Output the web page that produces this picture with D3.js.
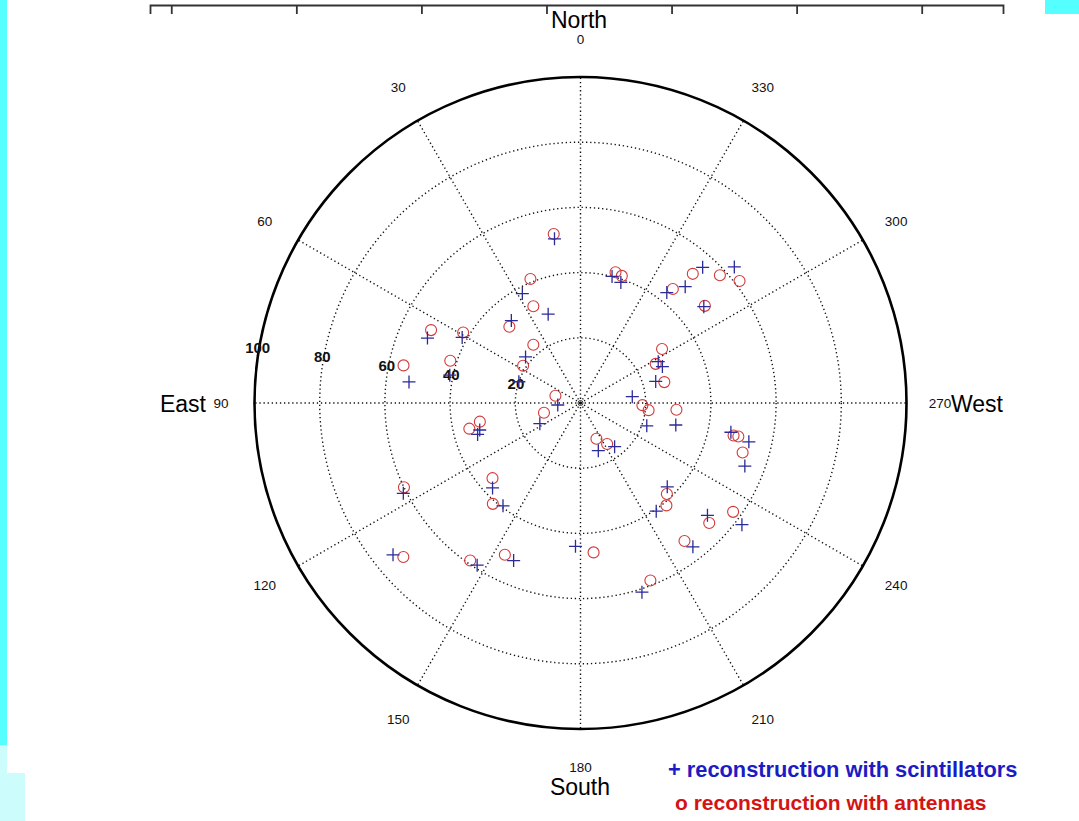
<!DOCTYPE html>
<html>
<head>
<meta charset="utf-8">
<script src="https://cdn.jsdelivr.net/npm/d3@7"></script>
<style>
  html, body { margin: 0; padding: 0; background: #fff; }
  svg { display: block; }
</style>
</head>
<body>
<div id="chart"></div>
<script>
// values: [azimuth deg (N=0, E=90, S=180, W=270), zenith deg]
const scintillators = [
  [9, 51], [28, 38], [20, 29], [40, 33], [67, 51], [61, 41.5], [50, 22], [71, 20],
  [83, 53], [78, 41], [95, 7], [117, 14], [105, 32], [107, 33], [117, 61], [134, 37.5],
  [143, 39.5], [129, 74], [147.5, 59], [157, 52.5], [178, 44], [346, 40], [341.5, 39],
  [318, 56], [311.5, 63], [318, 48], [322, 43], [308, 48], [298, 27], [294, 27.5],
  [286, 24], [277, 16], [251, 21.5], [257, 30], [200.5, 15.6], [218, 17], [259, 47],
  [257, 53], [249, 54], [226, 37], [215, 40.5], [228.5, 52], [233, 62], [218, 56], [198, 61]
];
const antennas = [
  [9, 52.5], [22, 41], [26, 33], [43, 32], [64, 51], [59, 42], [39, 23], [57, 21],
  [78, 55.5], [72, 42], [74, 8], [105, 11.6], [100.5, 31.4], [103, 35], [115.5, 60], [130.5, 35.5],
  [139, 41], [131, 72], [145, 59], [153.5, 52], [185, 46], [345, 41.5], [342, 41],
  [319, 52.5], [312.5, 58], [307.5, 61.5], [321, 45], [308, 48.4], [303.5, 30], [297.5, 26],
  [284, 26.5], [268, 19], [264, 21], [266, 29.5], [204, 12], [213, 15], [258, 48],
  [258, 49.5], [253, 52], [223.5, 38.5], [220, 41], [227, 54], [234.5, 57.5], [217, 53], [201.5, 58.5]
];
const ringValues = [20, 40, 60, 80, 100];
const spokeAngles = d3.range(0, 360, 30);
const azimuthLabels = ["0", "30", "60", "90", "120", "150", "180", "210", "240", "270", "300", "330"];
const radialLabels = ["20", "40", "60", "80", "100"];
const topTickValues = [0, 1, 2, 3, 4, 5, 6];

const width = 1079, height = 821;
const cx = 580.5, cy = 403;

const svg = d3.select('#chart').append('svg')
  .attr('width', width)
  .attr('height', height)
  .style('font-family', 'Liberation Sans, Arial, sans-serif');

// page decorations (edges of the slide)
svg.append('rect').attr('x', 0).attr('y', 0).attr('width', 7).attr('height', 745).attr('fill', '#55ffff');
svg.append('rect').attr('x', 0).attr('y', 745).attr('width', 7).attr('height', 28).attr('fill', '#ccfcfc');
svg.append('rect').attr('x', 0).attr('y', 773).attr('width', 25).attr('height', 48).attr('fill', '#ccfcfc');
svg.append('rect').attr('x', 1045).attr('y', 0).attr('width', 34).attr('height', 14).attr('fill', '#55ffff');

// cropped axis at the top of the slide
const topScale = d3.scaleLinear().domain([-0.17, 6.65]).range([150, 1003]);
const topAxis = svg.append('g')
  .attr('transform', 'translate(0,5)')
  .call(d3.axisBottom(topScale).tickValues(topTickValues).tickFormat('').tickSize(9).tickSizeOuter(9));
topAxis.selectAll('path, line').attr('stroke', '#333').attr('stroke-width', 1.8);

const r = d3.scaleLinear().domain([0, 100]).range([0, 326]);
const pos = (az, zen) => {
  const p = d3.pointRadial(-az * Math.PI / 180, r(zen));
  return [cx + p[0], cy + p[1]];
};

const g = svg.append('g');

// dotted grid
g.selectAll('circle.ring')
  .data(ringValues.filter(d => d < 100))
  .join('circle')
  .attr('class', 'ring')
  .attr('cx', cx).attr('cy', cy)
  .attr('r', d => r(d))
  .attr('fill', 'none')
  .attr('stroke', '#111')
  .attr('stroke-width', 1.4)
  .attr('stroke-dasharray', '1.3,2.8');

g.selectAll('line.spoke')
  .data(spokeAngles)
  .join('line')
  .attr('class', 'spoke')
  .attr('x1', cx).attr('y1', cy)
  .attr('x2', d => pos(d, 100)[0])
  .attr('y2', d => pos(d, 100)[1])
  .attr('stroke', '#111')
  .attr('stroke-width', 1.4)
  .attr('stroke-dasharray', '1.3,2.8');

g.append('circle')
  .attr('cx', cx).attr('cy', cy).attr('r', 2.5)
  .attr('fill', 'none').attr('stroke', '#333').attr('stroke-width', 1);

g.append('circle')
  .attr('cx', cx).attr('cy', cy).attr('r', r(100))
  .attr('fill', 'none').attr('stroke', '#000').attr('stroke-width', 2.6);

// azimuth labels
const labelR = d => (d === 90 || d === 270) ? 110.3 : 111.8;
g.selectAll('text.az')
  .data(spokeAngles)
  .join('text')
  .attr('class', 'az')
  .attr('x', d => pos(d, labelR(d))[0])
  .attr('y', d => pos(d, labelR(d))[1] + 5)
  .attr('text-anchor', 'middle')
  .attr('font-size', 13.5)
  .attr('fill', '#111')
  .text((d, i) => azimuthLabels[i]);

// zenith labels
g.selectAll('text.zen')
  .data(ringValues)
  .join('text')
  .attr('class', 'zen')
  .attr('x', d => pos(82, d)[0])
  .attr('y', d => pos(82, d)[1] - 5)
  .attr('text-anchor', 'middle')
  .attr('font-size', 15)
  .attr('font-weight', 'bold')
  .attr('fill', '#111')
  .text((d, i) => radialLabels[i]);

// compass words
const words = [
  { t: 'North', x: 579, y: 28, a: 'middle' },
  { t: 'South', x: 580, y: 795, a: 'middle' },
  { t: 'East', x: 206, y: 412, a: 'end' },
  { t: 'West', x: 951, y: 412, a: 'start' }
];
svg.selectAll('text.word')
  .data(words)
  .join('text')
  .attr('class', 'word')
  .attr('x', d => d.x).attr('y', d => d.y)
  .attr('text-anchor', d => d.a)
  .attr('font-size', 23)
  .attr('fill', '#000')
  .text(d => d.t);

// antennas: red circles
g.selectAll('circle.ant')
  .data(antennas)
  .join('circle')
  .attr('class', 'ant')
  .attr('cx', d => pos(d[0], d[1])[0])
  .attr('cy', d => pos(d[0], d[1])[1])
  .attr('r', 5.5)
  .attr('fill', 'none')
  .attr('stroke', '#d23a3a')
  .attr('stroke-width', 1.1);

// scintillators: blue plus signs
g.selectAll('path.sc')
  .data(scintillators)
  .join('path')
  .attr('class', 'sc')
  .attr('transform', d => `translate(${pos(d[0], d[1])})`)
  .attr('d', 'M-6.5,0H6.5M0,-6.5V6.5')
  .attr('stroke', '#2a2a9a')
  .attr('stroke-width', 1.3)
  .attr('fill', 'none');

// legend
svg.append('text')
  .attr('x', 668).attr('y', 777)
  .attr('font-size', 21.8).attr('font-weight', 'bold')
  .attr('fill', '#1c1cc4')
  .text('+ reconstruction with scintillators');
svg.append('text')
  .attr('x', 675).attr('y', 810)
  .attr('font-size', 21).attr('font-weight', 'bold')
  .attr('fill', '#d41414')
  .text('o reconstruction with antennas');
</script>
</body>
</html>
